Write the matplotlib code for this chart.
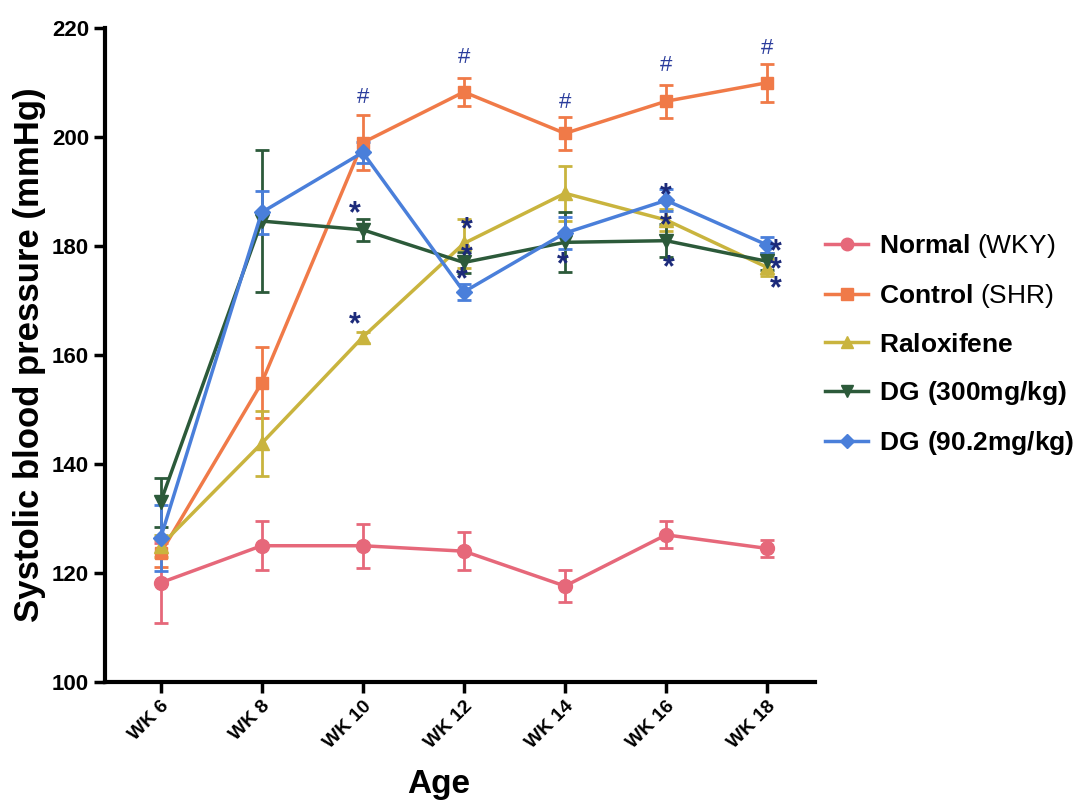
import numpy as np
import matplotlib
matplotlib.use('Agg')
import matplotlib.pyplot as plt
from matplotlib.lines import Line2D

plt.rcParams['font.family'] = ['Liberation Sans', 'DejaVu Sans']
plt.rcParams['mathtext.fontset'] = 'custom'
plt.rcParams['mathtext.rm'] = 'Liberation Sans'
plt.rcParams['mathtext.bf'] = 'Liberation Sans:bold'

weeks = ['WK 6', 'WK 8', 'WK 10', 'WK 12', 'WK 14', 'WK 16', 'WK 18']

normal = [118.2, 125.0, 125.0, 124.0, 117.6, 127.0, 124.5]
normal_err = [7.3, 4.5, 4.0, 3.5, 3.0, 2.5, 1.5]
control = [123.6, 154.9, 199.0, 208.3, 200.7, 206.6, 210.0]
control_err = [2.5, 6.5, 5.0, 2.5, 3.0, 3.0, 3.5]
ralox = [125.0, 143.8, 163.3, 180.5, 189.7, 184.8, 176.1]
ralox_err = [2.0, 6.0, 1.0, 4.5, 5.0, 2.0, 1.5]
dg300 = [133.0, 184.6, 183.0, 177.0, 180.7, 181.0, 177.2]
dg300_err = [4.5, 13.0, 2.0, 2.0, 5.5, 3.0, 1.5]
dg90 = [126.4, 186.2, 197.2, 171.6, 182.4, 188.4, 180.2]
dg90_err = [6.0, 4.0, 2.0, 1.5, 3.0, 2.0, 1.5]

series = [
    (r'$\mathbf{Normal}$ (WKY)', normal, normal_err, '#e6687a', 'o', 10),
    (r'$\mathbf{Control}$ (SHR)', control, control_err, '#f07a48', 's', 9),
    (r'$\mathbf{Raloxifene}$', ralox, ralox_err, '#c9b43e', '^', 10),
    (r'$\mathbf{DG\ (300mg/kg)}$', dg300, dg300_err, '#2c5a3a', 'v', 10),
    (r'$\mathbf{DG\ (90.2mg/kg)}$', dg90, dg90_err, '#4a7fda', 'D', 8),
]

# significance marks: (week index, y value)
hash_marks = [(2, 207.2), (3, 214.7), (4, 206.4), (5, 213.2), (6, 216.3)]
stars = [(2, 187.2), (2, 166.8), (3, 184.4), (3, 179.3), (3, 175.2), (4, 177.8),
         (5, 190.6), (5, 185.1), (5, 177.4), (6, 180.2), (6, 176.9), (6, 173.4)]
star_dx = [-0.08, -0.08, 0.03, 0.03, -0.02, -0.02, 0.0, 0.0, 0.03, 0.08, 0.08, 0.08]

fig = plt.figure(figsize=(10.82, 8.07), dpi=100)
ax = fig.add_axes([0.097, 0.155, 0.656, 0.81])

x = np.arange(len(weeks))
handles = []
for label, vals, err, col, mk, ms in series:
    ax.errorbar(x, vals, yerr=err, color=col, marker=mk, markersize=ms, lw=2.5,
                elinewidth=2, capsize=5, capthick=2)
    handles.append(Line2D([], [], color=col, marker=mk, markersize=ms * 0.9, lw=2.5, label=label))

for i, yv in hash_marks:
    ax.text(x[i], yv, '#', color='#2a3c9c', fontsize=16, ha='center', va='center')
for (i, yv), dx in zip(stars, star_dx):
    ax.text(x[i] + dx, yv - 1.4, '*', color='#1c2a7a', fontsize=22, fontweight='bold',
            ha='center', va='center')

ax.set_xlim(-0.55, 6.47)
ax.set_ylim(100, 220)
ax.set_yticks(np.arange(100, 221, 20))
ax.set_xticks(x)
ax.set_xticklabels(weeks, rotation=45, ha='right', rotation_mode='anchor',
                   fontsize=14, fontweight='bold')
for t in ax.get_yticklabels():
    t.set_fontsize(16)
    t.set_fontweight('bold')
ax.spines['top'].set_visible(False)
ax.spines['right'].set_visible(False)
ax.spines['left'].set_linewidth(3)
ax.spines['bottom'].set_linewidth(3)
ax.tick_params(width=2.5, length=8)
ax.set_ylabel('Systolic blood pressure (mmHg)', fontsize=25, fontweight='bold')
ax.set_xlabel('Age', fontsize=24, fontweight='bold')
ax.xaxis.set_label_coords(0.47, -0.133)

ax.legend(handles=handles, loc='center left', bbox_to_anchor=(1.015, 0.516), frameon=False,
          fontsize=19, labelspacing=0.85, handlelength=1.6, handletextpad=0.45,
          borderpad=0, borderaxespad=0)

fig.savefig('out.png', dpi=100)
